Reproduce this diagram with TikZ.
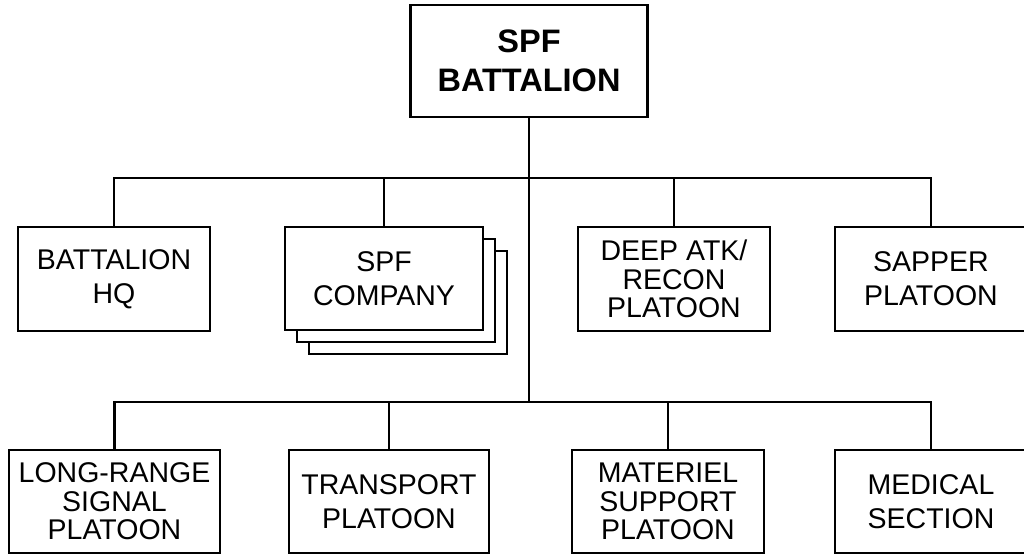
\documentclass[tikz,border=0pt]{standalone}
\usepackage{fontspec}
\setmainfont{Liberation Sans}
\usetikzlibrary{positioning}

\begin{document}
\begin{tikzpicture}[x=1pt, y=-1pt, line width=2.8pt,
  unit/.style={draw, fill=white, align=center, inner sep=0pt, minimum width=192pt, minimum height=104pt, font=\fontsize{28.5}{34}\selectfont},
  tripleunit/.style={unit, font=\fontsize{28.5}{28.5}\selectfont},
  hqunit/.style={unit, minimum width=237pt, minimum height=112pt, font=\bfseries\fontsize{32.5}{39}\selectfont}]
\useasboundingbox (0,0) rectangle (1024,556);
% headquarters
\node[hqunit] (bn) at (529,61) {SPF\\BATTALION};
\coordinate (bus1) at (529,178);
\coordinate (bus2) at (529,402);
% first row
\node[unit] (hq) at (114,279) {BATTALION\\HQ};
\node[unit, minimum width=198pt, minimum height=103pt] (coy3) at (408,302.5) {};
\node[unit, minimum width=198pt, minimum height=103pt] (coy2) at (396,290.5) {};
\node[unit, minimum width=198pt, minimum height=103pt] (coy) at (384,278.5) {SPF\\COMPANY};
\node[tripleunit] (recon) at (674,279) {DEEP ATK/\\RECON\\PLATOON};
\node[unit] (sapper) at (931,279) {SAPPER\\PLATOON};
% second row
\node[tripleunit, minimum width=211pt, minimum height=103pt] (signal) at (114.5,501.5) {LONG-RANGE\\SIGNAL\\PLATOON};
\node[unit, minimum width=200pt, minimum height=103pt] (transport) at (389,501.5) {TRANSPORT\\PLATOON};
\node[tripleunit, minimum height=103pt] (materiel) at (668,501.5) {MATERIEL\\SUPPORT\\PLATOON};
\node[unit, minimum height=103pt] (medical) at (931,501.5) {MEDICAL\\SECTION};
% lines
\draw (bn.south) -- (bus2);
\draw (hq.north) -- (hq.north |- bus1) -- (sapper.north |- bus1) -- (sapper.north);
\draw (coy.north) -- (coy.north |- bus1); \draw (recon.north) -- (recon.north |- bus1);
\draw (signal.north) -- (signal.north |- bus2) -- (medical.north |- bus2) -- (medical.north);
\draw (transport.north) -- (transport.north |- bus2); \draw (materiel.north) -- (materiel.north |- bus2);
\end{tikzpicture}
\end{document}
